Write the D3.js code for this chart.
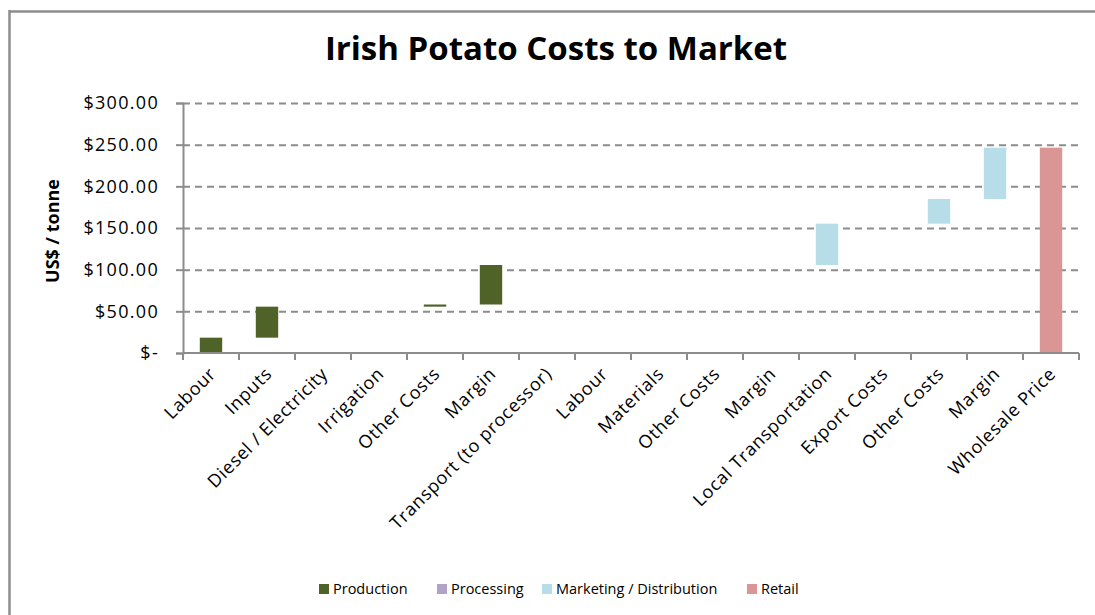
<!DOCTYPE html>
<html>
<head>
<meta charset="utf-8">
<script src="https://cdn.jsdelivr.net/npm/d3@7"></script>
<style>
  body { margin: 0; background: #fff; }
  text { font-family: "Open Sans", "DejaVu Sans", sans-serif; }
  .gridline line { stroke: #8c8c8c; stroke-width: 2; stroke-dasharray: 7,5; }
  .gridline path { display: none; }
  .axis path, .axis line { stroke: #8c8c8c; stroke-width: 2; }
</style>
</head>
<body>
<div class="plot-item"></div>
<script>
// data
var categories = ["Labour", "Inputs", "Diesel / Electricity", "Irrigation", "Other Costs", "Margin",
  "Transport (to processor)", "Labour", "Materials", "Other Costs", "Margin",
  "Local Transportation", "Export Costs", "Other Costs", "Margin", "Wholesale Price"];
var stages = ["Production", "Production", "Production", "Production", "Production", "Production",
  "Processing", "Processing", "Processing", "Processing", "Processing",
  "Marketing / Distribution", "Marketing / Distribution", "Marketing / Distribution", "Marketing / Distribution",
  "Retail"];
var costValues = [18.4, 37.2, 0, 0, 2.6, 47.4, 0, 0, 0, 0, 0, 49.6, 0, 29.6, 61.6, 246.4];
var isTotal = [false, false, false, false, false, false, false, false, false, false, false,
  false, false, false, false, true];
var legendNames = ["Production", "Processing", "Marketing / Distribution", "Retail"];
var legendColors = ["#4f6228", "#b3a2c7", "#b7dee8", "#d99694"];
var yTicks = [0, 50, 100, 150, 200, 250, 300];

var w = 1095, h = 615;
var margin = { top: 103, left: 183, right: 16, bottom: 262 };
var width = w - margin.left - margin.right;
var height = h - margin.top - margin.bottom;

var svg = d3.select(".plot-item").append("svg")
  .attr("width", w)
  .attr("height", h);

// outer chart border (top and left visible)
svg.append("line").attr("x1", 9).attr("x2", w).attr("y1", 11.5).attr("y2", 11.5)
  .attr("stroke", "#8c8c8c").attr("stroke-width", 2.5);
svg.append("line").attr("x1", 9.5).attr("x2", 9.5).attr("y1", 10).attr("y2", h)
  .attr("stroke", "#8c8c8c").attr("stroke-width", 2.5);

svg.append("text")
  .attr("x", 556).attr("y", 60)
  .attr("text-anchor", "middle")
  .style("font-size", "33px").style("font-weight", "bold")
  .text("Irish Potato Costs to Market");

var chart = svg.append("g")
  .attr("transform", "translate(" + margin.left + "," + margin.top + ")");

var x = d3.scaleBand().domain(d3.range(categories.length)).range([0, width]).paddingInner(0).paddingOuter(0);
var y = d3.scaleLinear().domain([0, 300]).range([height, 0]);
var colorScale = d3.scaleOrdinal().domain(legendNames).range(legendColors);

// running base for waterfall
var rows = [];
var running = 0;
costValues.forEach(function(v, i) {
  var base = isTotal[i] ? 0 : running;
  rows.push({ i: i, base: base, top: base + v, stage: stages[i] });
  if (!isTotal[i]) running += v;
});

chart.append("g")
  .classed("gridline", true)
  .call(d3.axisLeft(y).tickValues(yTicks.slice(1)).tickSize(-width).tickFormat(""));

var barW = x.bandwidth() / 2.5;
chart.selectAll(".bar")
  .data(rows.filter(function(d) { return d.top > d.base; }))
  .enter().append("rect")
  .classed("bar", true)
  .attr("x", function(d) { return x(d.i) + (x.bandwidth() - barW) / 2; })
  .attr("width", barW)
  .attr("y", function(d) { return y(d.top); })
  .attr("height", function(d) { return Math.max(1.5, y(d.base) - y(d.top)); })
  .attr("fill", function(d) { return colorScale(d.stage); });

var yAxis = chart.append("g")
  .classed("axis y", true)
  .call(d3.axisLeft(y).tickValues(yTicks).tickSize(7).tickPadding(17)
    .tickFormat(function(d) { return d === 0 ? "$-" : "$" + d.toFixed(2); }));
yAxis.selectAll("text").style("font-size", "18px").style("letter-spacing", "1.3px").attr("fill", "#000");

// x axis: ticks at band boundaries
var xAxis = chart.append("g")
  .classed("axis x", true)
  .attr("transform", "translate(0," + height + ")");
xAxis.append("line").attr("x1", 0).attr("x2", width).attr("y1", 0).attr("y2", 0);
xAxis.selectAll(".bound")
  .data(d3.range(categories.length + 1))
  .enter().append("line")
  .attr("x1", function(d) { return d === categories.length ? width : x(d); })
  .attr("x2", function(d) { return d === categories.length ? width : x(d); })
  .attr("y1", 0).attr("y2", 7);
xAxis.selectAll(".cat")
  .data(categories)
  .enter().append("text")
  .attr("text-anchor", "end")
  .attr("transform", function(d, i) {
    return "translate(" + (x(i) + x.bandwidth() / 2 + 6) + ",22) rotate(-45)";
  })
  .style("font-size", "18px")
  .style("letter-spacing", "0.7px")
  .attr("fill", "#000")
  .text(function(d) { return d; });

svg.append("text")
  .attr("transform", "translate(59,231) rotate(-90)")
  .attr("text-anchor", "middle")
  .style("font-size", "18px").style("font-weight", "bold")
  .text("US$ / tonne");

// legend
var legendX = [319, 437, 542, 747];
var legend = svg.selectAll(".legend")
  .data(legendNames)
  .enter().append("g")
  .attr("transform", function(d, i) { return "translate(" + legendX[i] + ",584)"; });
legend.append("rect").attr("width", 10).attr("height", 10)
  .attr("fill", function(d) { return colorScale(d); });
legend.append("text").attr("x", 14).attr("y", 10)
  .style("font-size", "14.5px")
  .text(function(d) { return d; });
</script>
</body>
</html>
